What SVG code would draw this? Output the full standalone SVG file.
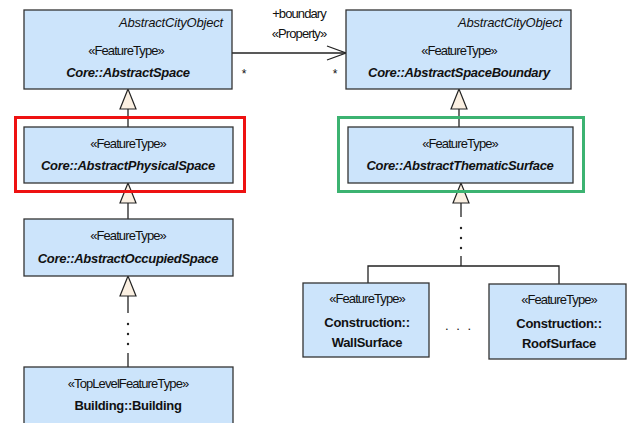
<svg xmlns="http://www.w3.org/2000/svg" width="627" height="423" viewBox="0 0 627 423">
<style>
.box{fill:#cce4fb;stroke:#333;stroke-width:1.3}
.tri{fill:#fbf0e2;stroke:#222;stroke-width:1.2}
.ln{stroke:#222;stroke-width:1.3;fill:none}
text{font-family:"Liberation Sans",Arial,sans-serif;font-size:13px;fill:#111;text-anchor:middle}
.st{letter-spacing:-0.9px}
.nm{font-weight:bold;font-style:italic;letter-spacing:-0.3px}
.bn{font-weight:bold;letter-spacing:-0.3px}
.it{font-style:italic;text-anchor:end;letter-spacing:-0.2px}
.dot{fill:#222}
</style>
<rect width="627" height="423" fill="#fff"/>
<g id="connectors">
  <line class="ln" x1="232" y1="53" x2="346" y2="53"/>
  <polyline class="ln" points="327,46 346,53 327,60"/>
  <text x="299" y="18" class="st">+boundary</text>
  <text x="299" y="38" class="st">«Property»</text>
  <text x="244" y="78" style="font-size:12px">*</text>
  <text x="335" y="78" style="font-size:12px">*</text>
  <line class="ln" x1="128" y1="109" x2="128" y2="127"/>
  <polygon class="tri" points="128,89 120,109 136,109"/>
  <line class="ln" x1="128" y1="203" x2="128" y2="219"/>
  <polygon class="tri" points="128,183 120,203 136,203"/>
  <line class="ln" x1="128" y1="296" x2="128" y2="313"/>
  <circle class="dot" cx="128" cy="324" r="1.2"/>
  <circle class="dot" cx="128" cy="334" r="1.2"/>
  <circle class="dot" cx="128" cy="344" r="1.2"/>
  <line class="ln" x1="128" y1="353" x2="128" y2="367"/>
  <polygon class="tri" points="128,276 120,296 136,296"/>
  <line class="ln" x1="459" y1="109" x2="459" y2="127"/>
  <polygon class="tri" points="459,89 451,109 467,109"/>
  <line class="ln" x1="461" y1="203" x2="461" y2="217"/>
  <circle class="dot" cx="461" cy="228" r="1.2"/>
  <circle class="dot" cx="461" cy="238" r="1.2"/>
  <circle class="dot" cx="461" cy="248" r="1.2"/>
  <polyline class="ln" points="461,256 461,266"/>
  <polyline class="ln" points="368,283 368,266 559,266 559,284"/>
  <polygon class="tri" points="461,183 453,203 469,203"/>
  <text x="459" y="330" style="letter-spacing:2px">. . .</text>
</g>
<g id="n-abstractspace">
  <rect class="box" x="24" y="10" width="208" height="79"/>
  <text x="223" y="27" class="it">AbstractCityObject</text>
  <text x="126" y="55" class="st">«FeatureType»</text>
  <text x="128" y="77" class="nm">Core::AbstractSpace</text>
</g>
<g id="n-spaceboundary">
  <rect class="box" x="346" y="10" width="225" height="79"/>
  <text x="562" y="27" class="it">AbstractCityObject</text>
  <text x="459" y="55" class="st">«FeatureType»</text>
  <text x="459" y="77" class="nm">Core::AbstractSpaceBoundary</text>
</g>
<g id="n-physicalspace">
  <rect x="15.5" y="117.5" width="229" height="74" fill="none" stroke="#ee1111" stroke-width="3"/>
  <rect class="box" x="24" y="127" width="209" height="56"/>
  <text x="128" y="148" class="st">«FeatureType»</text>
  <text x="128" y="170" class="nm">Core::AbstractPhysicalSpace</text>
</g>
<g id="n-occupiedspace">
  <rect class="box" x="24" y="219" width="209" height="57"/>
  <text x="128" y="240" class="st">«FeatureType»</text>
  <text x="128" y="263" class="nm">Core::AbstractOccupiedSpace</text>
</g>
<g id="n-building">
  <rect class="box" x="24" y="367" width="209" height="70"/>
  <text x="128" y="388" class="st">«TopLevelFeatureType»</text>
  <text x="128" y="410" class="bn">Building::Building</text>
</g>
<g id="n-thematicsurface">
  <rect x="338.5" y="117.5" width="245" height="74" fill="none" stroke="#3cb371" stroke-width="3"/>
  <rect class="box" x="348" y="127" width="225" height="56"/>
  <text x="460" y="148" class="st">«FeatureType»</text>
  <text x="460" y="170" class="nm">Core::AbstractThematicSurface</text>
</g>
<g id="n-wallsurface">
  <rect class="box" x="303" y="283" width="126" height="74"/>
  <text x="367" y="303" class="st">«FeatureType»</text>
  <text x="367" y="327" class="bn">Construction::</text>
  <text x="367" y="347" class="bn">WallSurface</text>
</g>
<g id="n-roofsurface">
  <rect class="box" x="489" y="284" width="137" height="75"/>
  <text x="559" y="304" class="st">«FeatureType»</text>
  <text x="559" y="328" class="bn">Construction::</text>
  <text x="559" y="348" class="bn">RoofSurface</text>
</g>
</svg>
